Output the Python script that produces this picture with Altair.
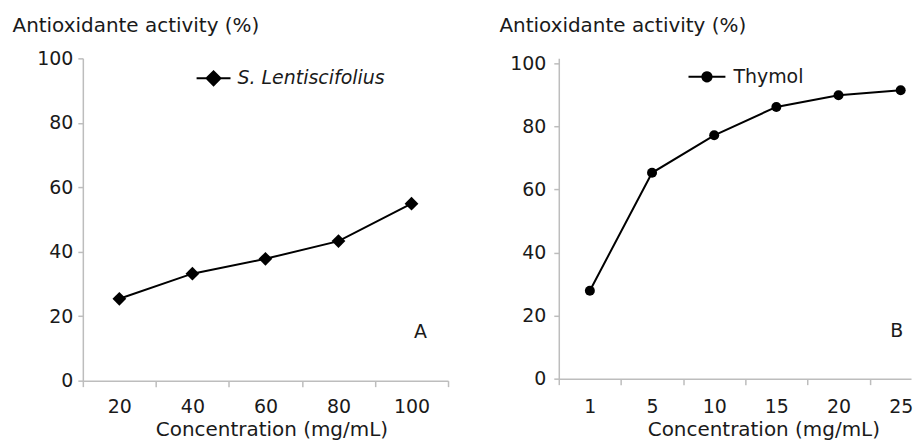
import json
import altair as alt
import pandas as pd
import numpy as np

# ---- data ----
conc_a = ["20", "40", "60", "80", "100"]
activity_a = [25.4, 33.2, 37.8, 43.3, 54.9]
series_a = "S. Lentiscifolius"

conc_b = ["1", "5", "10", "15", "20", "25"]
activity_b = [27.9, 65.3, 77.2, 86.2, 89.9, 91.5]
series_b = "Thymol"

y_ticks = [0, 20, 40, 60, 80, 100]
y_title = "Antioxidante activity (%)"
x_title = "Concentration (mg/mL)"
panel_a = "A"
panel_b = "B"
panel_label_value = 15

FONT = "DejaVu Sans"
TXT = "#1a1a1a"
AXC = "#bdbdbd"

# legend symbols: a short line with a marker on it (unit square coords)
sym_diamond = "M-1,0L1,0M-0.41,0L0,-0.41L0.41,0L0,0.41Z"
ang = np.linspace(0, 2 * np.pi, 21)[:-1]
r = 0.25
sym_circle = "M-1,0L1,0M" + "L".join(f"{r*np.cos(a):.3f},{r*np.sin(a):.3f}" for a in ang) + "Z"


def panel(conc, vals, series, shape, msize, w, band, h, ymax, label, label_dx,
          title_x, title_y, ylab_pad, xlab_pad, xtitle_x, xtitle_pad,
          leg_x, leg_y, sym, sym_size, leg_off, italic):
    n = len(conc)
    df = pd.DataFrame({"pos": [i + 0.5 for i in range(n)], "conc": conc, "act": vals, "series": series})
    lab = pd.DataFrame({"pos": [n - 0.5], "act": [panel_label_value], "txt": [label]})
    dmax = w / band
    bounds = list(range(0, int(np.floor(dmax + 1e-9)) + 1))
    centers = [i + 0.5 for i in range(n)]
    vals_axis = sorted(bounds + centers)
    xenc = alt.X(
        "pos:Q", scale=alt.Scale(domain=[0, dmax], nice=False, zero=False),
        axis=alt.Axis(title=x_title, values=vals_axis, labelAngle=0, tickSize=6,
                      labelExpr=f"datum.value % 1 == 0 ? '' : {json.dumps(conc)}[floor(datum.value)]",
                      tickOpacity={"condition": {"test": "datum.value % 1 != 0", "value": 0}, "value": 1},
                      labelOverlap=False, labelFlush=False, grid=False,
                      labelPadding=xlab_pad, titlePadding=xtitle_pad,
                      titleX=xtitle_x, titleAlign="center", titleBaseline="top"),
    )
    yenc = alt.Y(
        "act:Q", scale=alt.Scale(domain=[0, ymax], nice=False),
        axis=alt.Axis(values=y_ticks, title=y_title, titleAngle=0, titleX=title_x,
                      titleY=title_y, titleAlign="left", titleBaseline="top",
                      tickSize=5, labelPadding=ylab_pad, grid=False),
    )
    line = alt.Chart(df).mark_line(strokeWidth=2, color="black").encode(
        x=xenc, y=yenc,
        color=alt.Color("series:N", scale=alt.Scale(range=["black"]),
                        legend=alt.Legend(title=None, orient="none", legendX=leg_x, legendY=leg_y,
                                          symbolType=sym, symbolSize=sym_size, symbolStrokeWidth=2,
                                          symbolFillColor="black", symbolStrokeColor="black",
                                          labelFont=FONT, labelFontSize=19, labelColor=TXT,
                                          labelFontStyle="italic" if italic else "normal",
                                          labelOffset=leg_off, padding=0)),
    )
    pts = alt.Chart(df).mark_point(shape=shape, filled=True, size=msize, color="black", opacity=1).encode(
        x=xenc, y=yenc)
    txt = alt.Chart(lab).mark_text(font=FONT, fontSize=19, color=TXT, dx=label_dx, baseline="middle").encode(
        x=xenc, y=yenc, text="txt:N")
    return alt.layer(line, pts, txt).properties(width=w, height=h)


left = panel(conc_a, activity_a, series_a, "diamond", 190, 366, 73.2, 323, 100, panel_a, 9,
             -71, -43, 5, 11, 189, 3, 113, 2, sym_diamond, 1156, 6, True)
right = panel(conc_b, activity_b, series_b, "circle", 100, 353, 62.3, 321, 101.6, panel_b, -4,
              -60, -43, 8, 13, 205, 3, 129, -1, sym_circle, 1369, 7, False)

chart = alt.hconcat(left, right, spacing=50).resolve_scale(
    color="independent").resolve_legend(color="independent").properties(
    padding={"left": 4, "top": 7, "right": 0, "bottom": 0}
).configure_view(stroke=None).configure_axis(
    domainColor=AXC, tickColor=AXC, domainWidth=1.5, tickWidth=1.5,
    labelFont=FONT, labelFontSize=19, labelColor=TXT,
    titleFont=FONT, titleFontSize=20, titleFontWeight="normal", titleColor=TXT,
)

chart.save("out.html", embed_options={"renderer": "svg", "actions": False})
